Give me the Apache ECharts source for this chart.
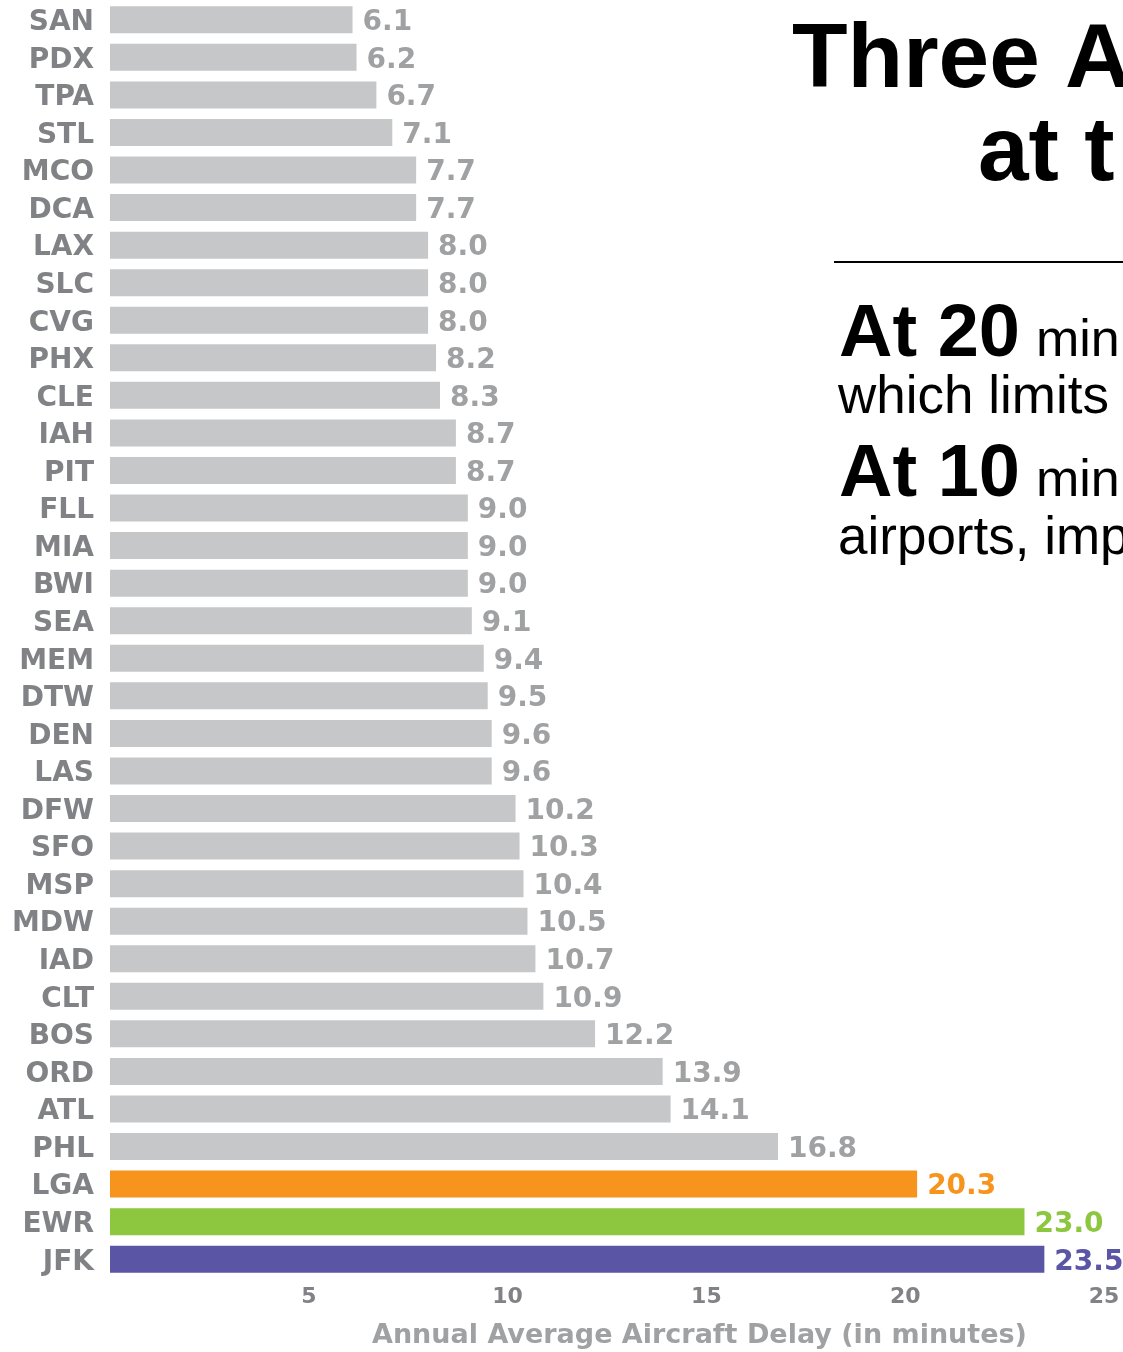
<!DOCTYPE html>
<html><head><meta charset="utf-8">
<script src="https://cdn.jsdelivr.net/npm/echarts@6/dist/echarts.min.js"></script>
<style>html,body{margin:0;padding:0;background:#fff}#c{width:1123px;height:1352px}</style>
</head><body><div id="c"></div>
<script>
const airports = ['SAN','PDX','TPA','STL','MCO','DCA','LAX','SLC','CVG','PHX','CLE','IAH','PIT','FLL','MIA','BWI','SEA','MEM','DTW','DEN','LAS','DFW','SFO','MSP','MDW','IAD','CLT','BOS','ORD','ATL','PHL','LGA','EWR','JFK'];
const delays = [6.1,6.2,6.7,7.1,7.7,7.7,8.0,8.0,8.0,8.2,8.3,8.7,8.7,9.0,9.0,9.0,9.1,9.4,9.5,9.6,9.6,10.2,10.3,10.4,10.5,10.7,10.9,12.2,13.9,14.1,16.8,20.3,23.0,23.5];
const highlightAirports = ['LGA','EWR','JFK'];
const highlightColors = ['#f7941d','#8dc63f','#5b55a5'];
const xTicks = [5,10,15,20,25];
const xAxisTitle = 'Annual Average Aircraft Delay (in minutes)';
const titleLines = ['Three A','at t'];
const notes = [['At 20','min','which limits'],['At 10','min','airports, imp']];

const F = 'DejaVu Sans';
const barGray = '#c6c7c9', labelGray = '#a0a1a3', catGray = '#808285';
const data = delays.map((v,i)=>{
  const h = highlightAirports.indexOf(airports[i]);
  const c = h>=0 ? highlightColors[h] : barGray;
  const lc = h>=0 ? highlightColors[h] : labelGray;
  return {value:v, itemStyle:{color:c}, label:{color:lc}};
});
const chart = echarts.init(document.getElementById('c'));
chart.setOption({
  animation:false,
  grid:{left:110, right:19, top:1, bottom:74, containLabel:false},
  xAxis:{type:'value', min:0, max:25, interval:5,
    axisLine:{show:false}, axisTick:{show:false}, splitLine:{show:false},
    axisLabel:{margin:8, color:catGray, fontFamily:F, fontWeight:'bold', fontSize:22,
      formatter:v=> xTicks.indexOf(v)>=0 ? String(v) : ''}},
  yAxis:{type:'category', data:airports, inverse:true,
    axisLine:{show:false}, axisTick:{show:false},
    axisLabel:{margin:16, formatter:'{a|{value}}',
      rich:{a:{color:catGray, fontFamily:F, fontWeight:'bold', fontSize:28, padding:[6,0,0,0]}}}},
  series:[{type:'bar', data:data, barWidth:27,
    label:{show:true, position:'right', distance:10, offset:[0,3], fontFamily:F, fontWeight:'bold', fontSize:28,
      formatter:p=>p.value.toFixed(1)}}],
  graphic:[
    {type:'text', left:372, top:1322, style:{text:xAxisTitle, fill:labelGray, font:'bold 27px "DejaVu Sans"'}},
    {type:'text', x:792, y:62, style:{text:titleLines[0], fill:'#000', font:'bold 91px "Liberation Sans"', verticalAlign:'middle'}},
    {type:'text', x:978, y:155, style:{text:titleLines[1], fill:'#000', font:'bold 91px "Liberation Sans"', verticalAlign:'middle'}},
    {type:'rect', shape:{x:834, y:261, width:300, height:2}, style:{fill:'#000'}},
    {type:'text', x:839, y:336, style:{text:notes[0][0], fill:'#000', font:'bold 74px "Liberation Sans"', verticalAlign:'middle'}},
    {type:'text', x:1036, y:342, style:{text:notes[0][1], fill:'#000', font:'52px "Liberation Sans"', verticalAlign:'middle'}},
    {type:'text', x:838, y:398, style:{text:notes[0][2], fill:'#000', font:'53px "Liberation Sans"', verticalAlign:'middle'}},
    {type:'text', x:839, y:476, style:{text:notes[1][0], fill:'#000', font:'bold 74px "Liberation Sans"', verticalAlign:'middle'}},
    {type:'text', x:1036, y:482, style:{text:notes[1][1], fill:'#000', font:'52px "Liberation Sans"', verticalAlign:'middle'}},
    {type:'text', x:838, y:539, style:{text:notes[1][2], fill:'#000', font:'53px "Liberation Sans"', verticalAlign:'middle'}}
  ]
});
</script></body></html>
